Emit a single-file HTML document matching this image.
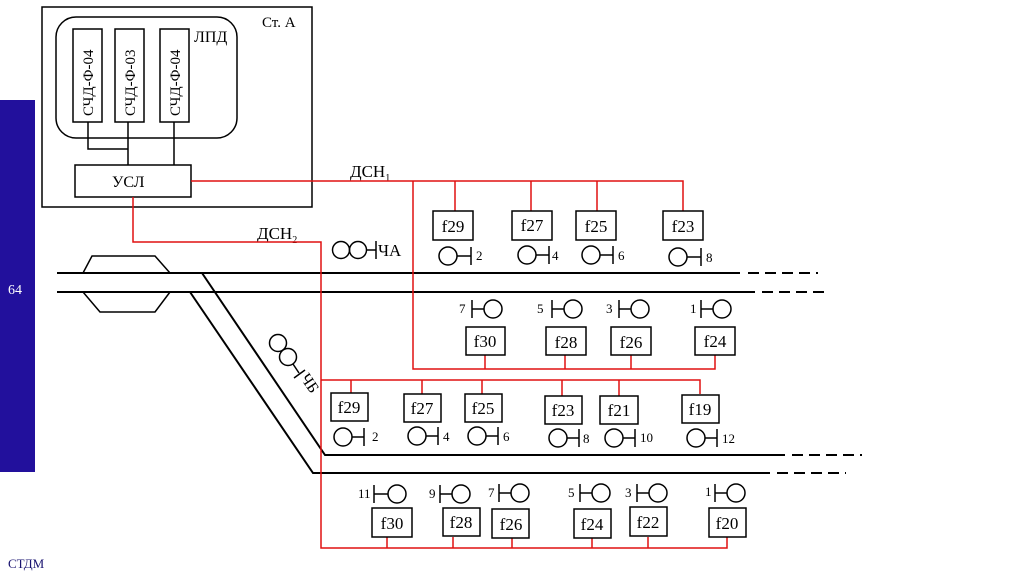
<!DOCTYPE html>
<html><head><meta charset="utf-8"><style>
html,body{margin:0;padding:0;background:#fff;}
svg{display:block}
text{font-family:"Liberation Serif",serif;fill:#000}
</style></head><body>
<svg width="1024" height="574" viewBox="0 0 1024 574" xmlns="http://www.w3.org/2000/svg">
<rect x="0" y="100" width="35" height="372" fill="#22109c"/>
<text x="8" y="294" font-size="14" style="fill:#fff">64</text>
<text x="8" y="568" font-size="13" style="fill:#1a1470">СТДМ</text>

<g stroke="#000" stroke-width="1.5" fill="none">
<rect x="42" y="7" width="270" height="200"/>
<rect x="56" y="17" width="181" height="121" rx="20"/>
<rect x="73" y="29" width="29" height="93"/>
<rect x="115" y="29" width="29" height="93"/>
<rect x="160" y="29" width="29" height="93"/>
<path d="M88 122V149H128M128 122V165M174 122V165"/>
<rect x="75" y="165" width="116" height="32"/>
</g>
<text x="262" y="27" font-size="15">Ст. А</text>
<text x="194" y="42" font-size="16">ЛПД</text>
<text x="112" y="187" font-size="16">УСЛ</text>
<text transform="translate(93,116) rotate(-90)" font-size="15">СЧД-Ф-04</text>
<text transform="translate(135,116) rotate(-90)" font-size="15">СЧД-Ф-03</text>
<text transform="translate(180,116) rotate(-90)" font-size="15">СЧД-Ф-04</text>

<text x="350" y="177" font-size="17">ДСН<tspan font-size="10" dy="4">1</tspan></text>
<text x="257" y="239" font-size="17">ДСН<tspan font-size="10" dy="4">2</tspan></text>

<g stroke="#000" stroke-width="2" fill="none">
<path d="M57 273H740M57 292H755M202 273L325 455H785M190 292L313 473H770"/>
<path d="M83 273L92 256H155L170 273M83 292L100 312H155L170 292" stroke-width="1.5"/>
<path d="M748 273H818M762 292H830M792 455H862M777 473H846" stroke-dasharray="11 6"/>
</g>

<g stroke="#e01010" stroke-width="1.5" fill="none">
<path d="M191 181H683V211M413 181V369H715V355M455 181V211M531 181V211M597 181V211M485 369V355M565 369V355M631 369V355"/>
<path d="M133 197V242H321V548H727V537M321 380H700V394M351 380V393M422 380V394M482 380V394M562 380V396M619 380V396M387 548V537M453 548V537M512 548V537M592 548V537M648 548V537"/>
</g>

<g stroke="#000" stroke-width="1.5" fill="#fff">
<rect x="433" y="211" width="40" height="29"/><rect x="512" y="211" width="40" height="29"/>
<rect x="576" y="211" width="40" height="29"/><rect x="663" y="211" width="40" height="29"/>
<rect x="466" y="327" width="39" height="28"/><rect x="546" y="327" width="40" height="28"/>
<rect x="611" y="327" width="40" height="28"/><rect x="695" y="327" width="40" height="28"/>
<rect x="331" y="393" width="37" height="28"/><rect x="404" y="394" width="37" height="28"/>
<rect x="465" y="394" width="37" height="28"/><rect x="545" y="396" width="37" height="28"/>
<rect x="600" y="396" width="38" height="28"/><rect x="682" y="395" width="37" height="28"/>
<rect x="372" y="508" width="40" height="29"/><rect x="443" y="508" width="37" height="28"/>
<rect x="492" y="509" width="37" height="29"/><rect x="574" y="509" width="37" height="29"/>
<rect x="630" y="507" width="37" height="29"/><rect x="709" y="508" width="37" height="29"/>
</g>
<g font-size="17" text-anchor="middle">
<text x="453" y="232">f29</text><text x="532" y="231">f27</text><text x="596" y="232">f25</text><text x="683" y="232">f23</text>
<text x="485" y="347">f30</text><text x="566" y="348">f28</text><text x="631" y="348">f26</text><text x="715" y="347">f24</text>
<text x="349" y="413">f29</text><text x="422" y="414">f27</text><text x="483" y="414">f25</text><text x="563" y="416">f23</text><text x="619" y="416">f21</text><text x="700" y="415">f19</text>
<text x="392" y="529">f30</text><text x="461" y="528">f28</text><text x="511" y="530">f26</text><text x="592" y="530">f24</text><text x="648" y="528">f22</text><text x="727" y="529">f20</text>
</g>

<g stroke="#000" stroke-width="1.5" fill="none">
<circle cx="448" cy="256" r="9"/><path d="M457 256H471M471 247V265"/>
<circle cx="527" cy="255" r="9"/><path d="M536 255H549M549 246V264"/>
<circle cx="591" cy="255" r="9"/><path d="M600 255H613M613 246V264"/>
<circle cx="678" cy="257" r="9"/><path d="M687 257H701M701 248V266"/>
<circle cx="343" cy="437" r="9"/><path d="M352 437H364M364 428V446"/>
<circle cx="417" cy="436" r="9"/><path d="M426 436H438M438 427V445"/>
<circle cx="477" cy="436" r="9"/><path d="M486 436H498M498 427V445"/>
<circle cx="558" cy="438" r="9"/><path d="M567 438H579M579 429V447"/>
<circle cx="614" cy="438" r="9"/><path d="M623 438H635M635 429V447"/>
<circle cx="696" cy="438" r="9"/><path d="M705 438H717M717 429V447"/>
<path d="M472 300V318M472 309H484"/><circle cx="493" cy="309" r="9"/>
<path d="M552 300V318M552 309H564"/><circle cx="573" cy="309" r="9"/>
<path d="M619 300V318M619 309H631"/><circle cx="640" cy="309" r="9"/>
<path d="M701 300V318M701 309H713"/><circle cx="722" cy="309" r="9"/>
<path d="M374 485V503M374 494H388"/><circle cx="397" cy="494" r="9"/>
<path d="M440 485V503M440 494H452"/><circle cx="461" cy="494" r="9"/>
<path d="M499 484V502M499 493H511"/><circle cx="520" cy="493" r="9"/>
<path d="M580 484V502M580 493H592"/><circle cx="601" cy="493" r="9"/>
<path d="M637 484V502M637 493H649"/><circle cx="658" cy="493" r="9"/>
<path d="M715 484V502M715 493H727"/><circle cx="736" cy="493" r="9"/>
<circle cx="341" cy="250" r="8.5"/><circle cx="358" cy="250" r="8.5"/><path d="M366 250H376M376 241V259"/>
<circle cx="278" cy="343" r="8.5"/><circle cx="288" cy="357" r="8.5"/><path d="M293 364L299 373M294 378L305 370"/>
</g>
<g font-size="13">
<text x="476" y="260">2</text><text x="552" y="260">4</text><text x="618" y="260">6</text><text x="706" y="262">8</text>
<text x="459" y="313">7</text><text x="537" y="313">5</text><text x="606" y="313">3</text><text x="690" y="313">1</text>
<text x="372" y="441">2</text><text x="443" y="441">4</text><text x="503" y="441">6</text><text x="583" y="443">8</text><text x="640" y="442">10</text><text x="722" y="443">12</text>
<text x="358" y="498">11</text><text x="429" y="498">9</text><text x="488" y="497">7</text><text x="568" y="497">5</text><text x="625" y="497">3</text><text x="705" y="496">1</text>
</g>
<text x="378" y="256" font-size="17">ЧА</text>
<text transform="translate(300,378) rotate(56)" font-size="16">ЧБ</text>
</svg>
</body></html>
